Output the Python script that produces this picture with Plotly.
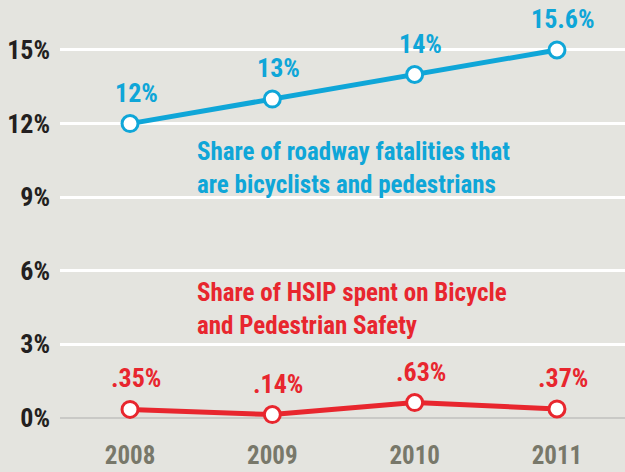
import plotly.graph_objects as go

years = [2008, 2009, 2010, 2011]
year_labels = ["2008", "2009", "2010", "2011"]

fatality_share = [12, 13, 14, 15]
fatality_labels = ["12%", "13%", "14%", "15.6%"]

hsip_share = [0.35, 0.14, 0.63, 0.37]
hsip_labels = [".35%", ".14%", ".63%", ".37%"]

y_ticks = [0, 3, 6, 9, 12, 15]
y_tick_labels = ["0%", "3%", "6%", "9%", "12%", "15%"]

BLUE = "#0fa6d8"
RED = "#e8262e"
BG = "#e4e4df"
FONT = "Roboto Condensed, Liberation Sans Narrow, Roboto, sans-serif"

fig = go.Figure()

for vals, labels, color in [(fatality_share, fatality_labels, BLUE),
                            (hsip_share, hsip_labels, RED)]:
    fig.add_trace(go.Scatter(
        x=years, y=vals, mode="lines+markers",
        line=dict(color=color, width=5),
        marker=dict(size=16, color="white", line=dict(color=color, width=3)),
        cliponaxis=False, hoverinfo="skip", showlegend=False,
    ))
    for xv, yv, lab in zip(years, vals, labels):
        fig.add_annotation(
            x=xv, y=yv, text=lab, showarrow=False,
            xanchor="center", yanchor="bottom", xshift=6, yshift=14,
            font=dict(family=FONT, size=26, color=color, weight="bold"),
        )

fig.add_annotation(
    x=0.239, xref="paper", y=10.2, yref="y", xanchor="left", yanchor="middle",
    text="Share of roadway fatalities that<br>are bicyclists and pedestrians",
    showarrow=False, align="left",
    font=dict(family=FONT, size=25, color=BLUE, weight="bold"),
)
fig.add_annotation(
    x=0.239, xref="paper", y=4.45, yref="y", xanchor="left", yanchor="middle",
    text="Share of HSIP spent on Bicycle<br>and Pedestrian Safety",
    showarrow=False, align="left",
    font=dict(family=FONT, size=25, color=RED, weight="bold"),
)

fig.update_layout(
    width=625, height=472,
    paper_bgcolor=BG, plot_bgcolor=BG,
    margin=dict(l=60, r=0, t=10, b=40),
    hovermode=False,
    xaxis=dict(
        range=[2007.508, 2011.478], tickvals=years, ticktext=year_labels,
        showgrid=False, zeroline=False, showline=False, ticks="",
        automargin=False, ticklabelstandoff=6,
        tickfont=dict(family=FONT, size=25, color="#78786a", weight="bold"),
    ),
    yaxis=dict(
        range=[-0.571, 16.63], tickvals=y_ticks, ticktext=y_tick_labels,
        showgrid=True, gridcolor="white", gridwidth=3,
        zeroline=True, zerolinecolor="#c9c9c6", zerolinewidth=2,
        showline=False, ticks="", ticklabelstandoff=9, automargin=False,
        tickfont=dict(family=FONT, size=26, color="#231f20", weight="bold"),
    ),
)

fig.write_html(
    "out.html",
    config={"displayModeBar": False},
    post_script="document.body.style.margin='0px';document.body.style.background='%s';" % BG,
)
